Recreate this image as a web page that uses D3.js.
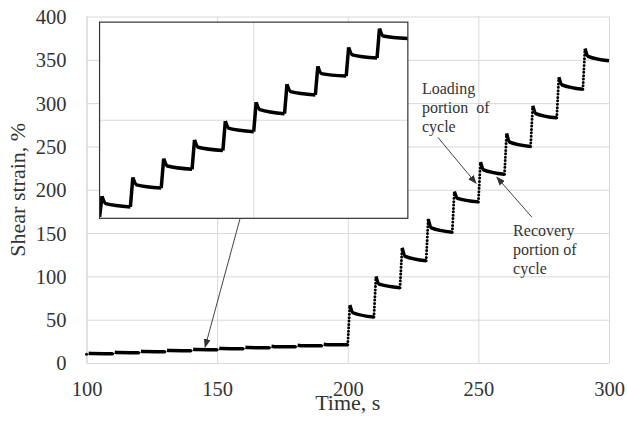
<!DOCTYPE html>
<html lang="en">
<head>
  <meta charset="UTF-8">
  <title>Shear strain vs time</title>
  <style>
    body { margin: 0; background: #fff; }
    svg { display: block; font-family: "Liberation Serif", "Times New Roman", serif; }
    .grid line, .grid path { stroke: #d9d9d9; stroke-width: 1; }
    .title { fill: #333; font-size: 22px; }
    .note { fill: #333; font-size: 16px; }
  </style>
</head>
<body>
  <div id="app"></div>
  <script src="https://cdn.jsdelivr.net/npm/d3@7"></script>
  <script>
    // load starts of each cycle (s)
    const loadTimes = [100, 110, 120, 130, 140, 150, 160, 170, 180, 190,
                       200, 210, 220, 230, 240, 250, 260, 270, 280, 290]
    const startValue = 10.1
    // strain at peak, ~2 s after load, and at the end of each cycle (%)
    const peakValues = [11.35, 12.5, 13.65, 14.8, 15.95, 17.1, 18.2, 19.3, 20.45, 21.6,
                        67, 100, 133, 166, 198, 232, 265, 297, 330, 363]
    const kneeValues = [10.9, 12.05, 13.2, 14.35, 15.5, 16.65, 17.75, 18.85, 20.0, 21.15,
                        58, 91, 123, 156, 190, 223, 255, 288, 321, 354]
    const endValues = [10.7, 11.85, 13.0, 14.15, 15.3, 16.4, 17.55, 18.7, 19.8, 21.0,
                       53, 87, 118, 151, 186, 218, 250, 283, 316, 349]
    const riseTime = 0.8, kneeTime = 2, cycleTime = 10

    const xTicks = [100, 150, 200, 250, 300]
    const yTicks = [0, 50, 100, 150, 200, 250, 300, 350, 400]

    const W = 627, H = 427
    const margin = { top: 16.5, right: 18, bottom: 64, left: 86.5 }
    const serif = '"Liberation Serif", "Times New Roman", serif'

    const svg = d3.select('#app').append('svg')
      .attr('width', W)
      .attr('height', H)

    svg.append('rect').attr('width', W).attr('height', H).attr('fill', '#fff')

    const defs = svg.append('defs')
    defs.append('marker')
      .attr('id', 'head')
      .attr('markerUnits', 'userSpaceOnUse')
      .attr('markerWidth', 9).attr('markerHeight', 7)
      .attr('refX', 8).attr('refY', 3.5)
      .attr('orient', 'auto')
      .append('path').attr('d', 'M0,0L9,3.5L0,7Z').attr('fill', '#333')

    const x = d3.scaleLinear().domain([100, 300]).range([margin.left, W - margin.right])
    const y = d3.scaleLinear().domain([0, 400]).range([H - margin.bottom, margin.top])

    // build cycles
    const cycles = loadTimes.map((t, i) => ({
      t,
      from: i ? endValues[i - 1] : startValue,
      peak: peakValues[i],
      knee: kneeValues[i],
      end: endValues[i]
    }))

    const risePts = c => [[c.t, c.from], [c.t + riseTime, c.peak]]
    const recPts = c => [[c.t + riseTime, c.peak], [c.t + kneeTime, c.knee], [c.t + cycleTime, c.end]]

    // gridlines via axes
    const styleAxis = g => {
      g.attr('font-family', serif).attr('font-size', 20.5)
      g.selectAll('.tick text').attr('fill', '#333').attr('font-family', serif)
    }

    svg.append('g')
      .attr('class', 'grid')
      .attr('transform', `translate(${margin.left},0)`)
      .call(d3.axisLeft(y).tickValues(yTicks).tickSizeInner(-(W - margin.left - margin.right)).tickSizeOuter(0).tickPadding(20))
      .call(styleAxis)
      .call(g => g.selectAll('.tick text').attr('dy', '0.34em'))

    svg.append('g')
      .attr('class', 'grid')
      .attr('transform', `translate(0,${H - margin.bottom})`)
      .call(d3.axisBottom(x).tickValues(xTicks).tickSizeInner(-(H - margin.top - margin.bottom)).tickSizeOuter(0).tickPadding(18))
      .call(styleAxis)

    // main series
    const line = d3.line().x(d => x(d[0])).y(d => y(d[1]))
    const curve = d3.line().x(d => x(d[0])).y(d => y(d[1])).curve(d3.curveMonotoneX)

    const main = svg.append('g')
    main.selectAll('path.rise').data(cycles).join('path')
      .attr('class', 'rise')
      .attr('d', d => line(risePts(d)))
      .attr('fill', 'none')
      .attr('stroke', '#000')
      .attr('stroke-width', 3)
      .attr('stroke-linecap', 'round')
      .attr('stroke-dasharray', '0 3.4')
    main.selectAll('path.rec').data(cycles).join('path')
      .attr('class', 'rec')
      .attr('d', d => curve(recPts(d)))
      .attr('fill', 'none')
      .attr('stroke', '#000')
      .attr('stroke-width', 3.5)

    // inset: zoom of 100-200 s
    const ix = d3.scaleLinear().domain([100, 200]).range([x(105), x(223)])
    const iy = d3.scaleLinear().domain([10, 22]).range([y(167), y(393.5)])

    const inset = svg.append('g')
    inset.append('rect')
      .attr('x', ix(100)).attr('y', iy(22))
      .attr('width', ix(200) - ix(100)).attr('height', iy(10) - iy(22))
      .attr('fill', '#fff')
    defs.append('clipPath').attr('id', 'inset-clip')
      .append('rect')
      .attr('x', ix(100)).attr('y', iy(22))
      .attr('width', ix(200) - ix(100)).attr('height', iy(10) - iy(22))

    inset.append('line')
      .attr('x1', ix(150)).attr('x2', ix(150)).attr('y1', iy(10)).attr('y2', iy(22))
      .attr('stroke', '#d9d9d9')
    inset.append('line')
      .attr('x1', ix(100)).attr('x2', ix(200)).attr('y1', iy(16)).attr('y2', iy(16))
      .attr('stroke', '#d9d9d9')

    const iline = d3.line().x(d => ix(d[0])).y(d => iy(d[1]))
    const icurve = d3.line().x(d => ix(d[0])).y(d => iy(d[1])).curve(d3.curveMonotoneX)
    const low = cycles.filter(c => c.t < 200)
    const ig = inset.append('g').attr('clip-path', 'url(#inset-clip)')
    ig.selectAll('path.rise').data(low).join('path')
      .attr('d', d => iline(risePts(d)))
      .attr('fill', 'none').attr('stroke', '#000').attr('stroke-width', 3.5)
    ig.selectAll('path.rec').data(low).join('path')
      .attr('d', d => icurve(recPts(d)))
      .attr('fill', 'none').attr('stroke', '#000').attr('stroke-width', 3.5)

    inset.append('rect')
      .attr('x', ix(100)).attr('y', iy(22))
      .attr('width', ix(200) - ix(100)).attr('height', iy(10) - iy(22))
      .attr('fill', 'none').attr('stroke', '#333').attr('stroke-width', 1.2)

    // annotations (data coords)
    const arrows = [
      [[158.8, 167], [145.4, 18.5]],
      [[234.5, 260.5], [249.1, 207.5]],
      [[270.5, 168.3], [257.1, 214.4]]
    ]
    svg.selectAll('line.arrow').data(arrows).join('line')
      .attr('class', 'arrow')
      .attr('x1', d => x(d[0][0])).attr('y1', d => y(d[0][1]))
      .attr('x2', d => x(d[1][0])).attr('y2', d => y(d[1][1]))
      .attr('stroke', '#444').attr('stroke-width', 1)
      .attr('marker-end', 'url(#head)')

    const notes = [
      { x: 228.4, y: 310, lines: ['Loading', 'portion  of', 'cycle'] },
      { x: 263.3, y: 147, lines: ['Recovery', 'portion of', 'cycle'] }
    ]
    notes.forEach(n => {
      const t = svg.append('text').attr('class', 'note')
        .attr('x', x(n.x)).attr('y', y(n.y))
        .attr('xml:space', 'preserve')
      n.lines.forEach((s, i) => {
        t.append('tspan').attr('x', x(n.x)).attr('dy', i ? 19 : 0).text(s)
      })
    })

    // axis titles
    svg.append('text').attr('class', 'title')
      .attr('x', (x(100) + x(300)) / 2).attr('y', 410)
      .attr('text-anchor', 'middle')
      .text('Time, s')
    svg.append('text').attr('class', 'title')
      .attr('transform', `translate(25,${(y(0) + y(400)) / 2}) rotate(-90)`)
      .attr('text-anchor', 'middle')
      .text('Shear strain, %')
  </script>
</body>
</html>
